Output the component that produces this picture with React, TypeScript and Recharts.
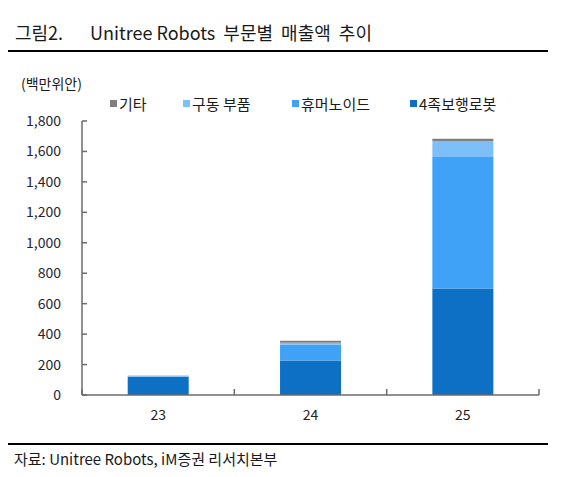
import React from "react";
import { Bar, BarChart, XAxis, YAxis } from "recharts";

const years = ["23", "24", "25"];
const quadruped = [120, 226, 700];
const humanoid = [0, 105, 864];
const actuators = [8, 12, 105];
const others = [0, 14, 15];
const yTicks = [0, 200, 400, 600, 800, 1000, 1200, 1400, 1600, 1800];

// stacking order, bottom first
const series = [
  { key: "quadruped", name: "4족보행로봇", color: "#0e70c4" },
  { key: "humanoid", name: "휴머노이드", color: "#3fa2f6" },
  { key: "actuators", name: "구동 부품", color: "#7dbff9" },
  { key: "others", name: "기타", color: "#7f7f7f" },
];

const data = years.map((year, i) => ({
  year,
  quadruped: quadruped[i],
  humanoid: humanoid[i],
  actuators: actuators[i],
  others: others[i],
}));

const FONT = '"Noto Sans CJK KR", "Noto Sans", sans-serif';
const W = 564;
const H = 477;
const margin = { top: 121, right: 25, bottom: 52, left: 0 };
const Y_AXIS_W = 82;
const X_AXIS_H = 30;
const AXIS_COLOR = "#6b6b6b";
const band = (W - margin.left - margin.right - Y_AXIS_W) / years.length;
// legend slot widths, in legend order (기타 first)
const legendSlots = [73, 109, 118, 120];

const XTick = (props: any) => {
  const { x, y, payload, index } = props;
  return (
    <g>
      <line x1={x - band / 2} x2={x - band / 2} y1={y} y2={y - 6} stroke={AXIS_COLOR} strokeWidth={1.5} />
      {index === years.length - 1 && (
        <line x1={x + band / 2} x2={x + band / 2} y1={y} y2={y - 6} stroke={AXIS_COLOR} strokeWidth={1.5} />
      )}
      <text x={x} y={y + 25} textAnchor="middle" fontSize={14} fill="#222" fontFamily={FONT}>
        {payload.value}
      </text>
    </g>
  );
};

const YTick = (props: any) => {
  const { x, y, payload } = props;
  return (
    <g>
      <line x1={x} x2={x + 5} y1={y} y2={y} stroke={AXIS_COLOR} strokeWidth={1.5} />
      <text x={x - 21} y={y + 5} textAnchor="end" fontSize={14} fill="#1f2633" fontFamily={FONT}>
        {payload.value.toLocaleString("en-US")}
      </text>
    </g>
  );
};

const text = (left: number, top: number, size: number): React.CSSProperties => ({
  position: "absolute",
  left,
  top,
  fontSize: size,
  lineHeight: `${size}px`,
  whiteSpace: "pre",
  color: "#1a1a1a",
  fontFamily: FONT,
});

const rule = (top: number): React.CSSProperties => ({
  position: "absolute",
  left: 8,
  top,
  width: 540,
  height: 2,
  background: "#000",
});

export default function App() {
  return (
    <div style={{ position: "absolute", left: 0, top: 0, width: W, height: H, background: "#fff", fontFamily: FONT }}>
      <div style={text(15, 23, 18)}>그림2.</div>
      <div style={text(90, 23, 18)}>Unitree Robots  부문별  매출액  추이</div>
      <div style={rule(50)} />
      <div style={text(21, 76, 14)}>(백만위안)</div>

      <div style={{ position: "absolute", left: 110, top: 96, display: "flex", alignItems: "center", fontFamily: FONT, fontSize: 15, lineHeight: "15px" }}>
        {[...series].reverse().map((s, i) => (
          <div key={s.key} style={{ display: "flex", alignItems: "center", width: legendSlots[i] }}>
            <span style={{ width: 7, height: 7, background: s.color, marginRight: 2 }} />
            <span style={{ color: "#1a1a1a", whiteSpace: "pre" }}>{s.name}</span>
          </div>
        ))}
      </div>

      <div style={{ position: "absolute", left: 0, top: 0 }}>
        <BarChart width={W} height={H} data={data} margin={margin} barCategoryGap="30%">
          <XAxis
            dataKey="year"
            height={X_AXIS_H}
            axisLine={{ stroke: AXIS_COLOR, strokeWidth: 1.5 }}
            tickLine={false}
            tickSize={0}
            tickMargin={0}
            tick={<XTick />}
            interval={0}
          />
          <YAxis
            width={Y_AXIS_W}
            domain={[0, 1800]}
            ticks={yTicks}
            interval={0}
            axisLine={{ stroke: AXIS_COLOR, strokeWidth: 1.5 }}
            tickLine={false}
            tickSize={0}
            tickMargin={0}
            tick={<YTick />}
          />
          {series.map((s) => (
            <Bar key={s.key} dataKey={s.key} name={s.name} stackId="a" fill={s.color} isAnimationActive={false} />
          ))}
        </BarChart>
      </div>

      <div style={rule(443)} />
      <div style={text(14, 451, 15)}>자료: Unitree Robots, iM증권 리서치본부</div>
    </div>
  );
}
